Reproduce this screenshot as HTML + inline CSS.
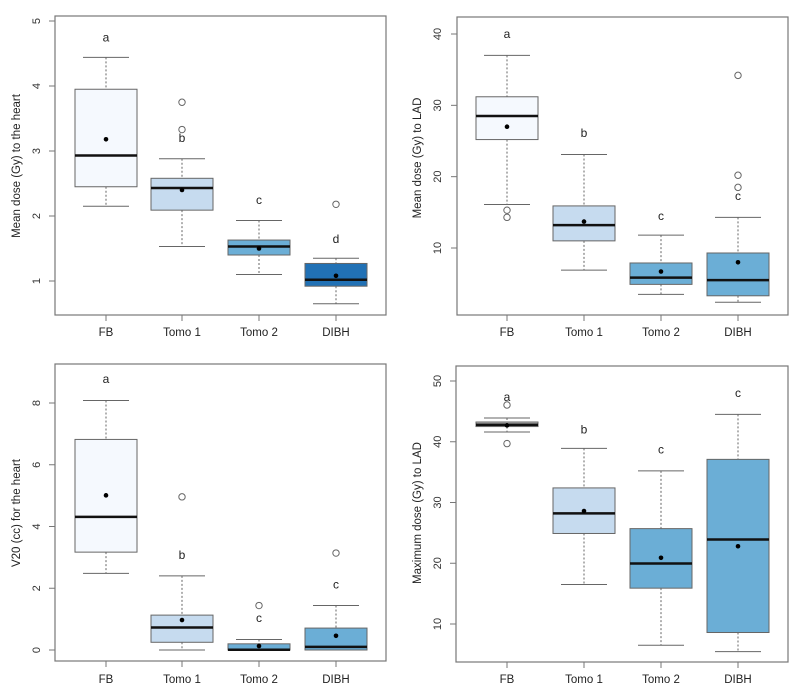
<!DOCTYPE html>
<html><head><meta charset="utf-8"><style>
html,body{margin:0;padding:0;background:#fff;}
svg{display:block;font-family:"Liberation Sans",sans-serif;}
</style></head><body>
<svg id="fig" width="800" height="695" viewBox="0 0 800 695"></svg>
<script>
const categories = ["FB","Tomo 1","Tomo 2","DIBH"];
// panel 1: mean heart dose
const p1Lo=[2.15,1.53,1.1,0.65], p1Q1=[2.45,2.09,1.4,0.92], p1Med=[2.93,2.43,1.53,1.02], p1Q3=[3.95,2.58,1.63,1.27], p1Hi=[4.44,2.88,1.93,1.35], p1Mean=[3.18,2.40,1.5,1.08];
const p1Out=[[],[3.75,3.33],[],[2.18]], p1Letters=["a","b","c","d"], p1LetterY=[4.75,3.2,2.25,1.65];
const p1Ticks=[1,2,3,4,5];
// panel 2: mean LAD dose
const p2Lo=[16.1,6.9,3.5,2.4], p2Q1=[25.2,11.0,4.9,3.3], p2Med=[28.5,13.2,5.85,5.5], p2Q3=[31.2,15.9,7.9,9.3], p2Hi=[37.0,23.1,11.8,14.3], p2Mean=[27.0,13.7,6.7,8.0];
const p2Out=[[15.3,14.3],[],[],[34.2,20.2,18.5]], p2Letters=["a","b","c","c"], p2LetterY=[40.0,26.1,14.5,17.3];
const p2Ticks=[10,20,30,40];
// panel 3: V20 heart
const p3Lo=[2.48,0,0,0], p3Q1=[3.17,0.25,0,0], p3Med=[4.31,0.73,0.01,0.1], p3Q3=[6.82,1.13,0.2,0.71], p3Hi=[8.08,2.40,0.34,1.44], p3Mean=[5.01,0.97,0.13,0.46];
const p3Out=[[],[4.96],[1.44],[3.14]], p3Letters=["a","b","c","c"], p3LetterY=[8.77,3.08,1.03,2.12];
const p3Ticks=[0,2,4,6,8];
// panel 4: max LAD dose
const p4Lo=[41.6,16.5,6.5,5.45], p4Q1=[42.5,24.9,15.9,8.6], p4Med=[42.8,28.2,19.96,23.9], p4Q3=[43.25,32.4,25.7,37.1], p4Hi=[43.9,38.9,35.2,44.5], p4Mean=[42.7,28.6,20.9,22.8];
const p4Out=[[46.05,39.7],[],[],[]], p4Letters=["a","b","c","c"], p4LetterY=[47.4,42.05,38.7,48];
const p4Ticks=[10,20,30,40,50];

const panels=[
 {id:"heart-mean",title:"Mean dose (Gy) to the heart",L:55,R:386,T:16,B:315,v1:5,y1:21,v2:1,y2:281,cx:[106,182,259,336],ttlX:17,ttlY:166,tickX:40,labY:336,
  lo:p1Lo,q1:p1Q1,med:p1Med,q3:p1Q3,hi:p1Hi,mean:p1Mean,out:p1Out,let:p1Letters,letY:p1LetterY,ticks:p1Ticks,fills:["#f5f9fe","#c6dbef","#6baed6","#2171b5"]},
 {id:"lad-mean",title:"Mean dose (Gy) to LAD",L:457,R:788,T:17,B:315,v1:40,y1:34,v2:10,y2:248,cx:[507,584,661,738],ttlX:418,ttlY:158,tickX:441,labY:336,
  lo:p2Lo,q1:p2Q1,med:p2Med,q3:p2Q3,hi:p2Hi,mean:p2Mean,out:p2Out,let:p2Letters,letY:p2LetterY,ticks:p2Ticks,fills:["#f5f9fe","#c6dbef","#6baed6","#6baed6"]},
 {id:"heart-v20",title:"V20 (cc) for the heart",L:55,R:386,T:364,B:661,v1:8,y1:403,v2:0,y2:650,cx:[106,182,259,336],ttlX:17,ttlY:513,tickX:40,labY:683,
  lo:p3Lo,q1:p3Q1,med:p3Med,q3:p3Q3,hi:p3Hi,mean:p3Mean,out:p3Out,let:p3Letters,letY:p3LetterY,ticks:p3Ticks,fills:["#f5f9fe","#c6dbef","#6baed6","#6baed6"]},
 {id:"lad-max",title:"Maximum dose (Gy) to LAD",L:456,R:788,T:366,B:662,v1:50,y1:381,v2:10,y2:624,cx:[507,584,661,738],ttlX:418,ttlY:513,tickX:441,labY:683,
  lo:p4Lo,q1:p4Q1,med:p4Med,q3:p4Q3,hi:p4Hi,mean:p4Mean,out:p4Out,let:p4Letters,letY:p4LetterY,ticks:p4Ticks,fills:["#bdbdbd","#c6dbef","#6baed6","#6baed6"]}
];
const NS="http://www.w3.org/2000/svg";
const svg=document.getElementById("fig");
function mk(tag,attrs,parent,name){const e=document.createElementNS(NS,tag);for(const k in attrs)e.setAttribute(k,attrs[k]);
 
 
 parent.appendChild(e);return e;}
panels.forEach(p=>{
 const g=mk("g",{},svg,p.id+"-panel");
 const y=v=>p.y1+(v-p.v1)*(p.y2-p.y1)/(p.v2-p.v1);
 const hw=31, cap=23;
 mk("rect",{x:p.L,y:p.T,width:p.R-p.L,height:p.B-p.T,fill:"none",stroke:"#777","stroke-width":1.2},g,p.id+"-plot-frame");
 p.ticks.forEach(t=>{
  mk("line",{x1:p.L-6,x2:p.L,y1:y(t),y2:y(t),stroke:"#777"},g,p.id+"-y-tick");
  const tx=mk("text",{x:p.tickX,y:y(t),transform:`rotate(-90 ${p.tickX} ${y(t)})`,"text-anchor":"middle","font-size":11,fill:"#333"},g,p.id+"-y-tick-label");
  tx.textContent=t;
 });
 const tt=mk("text",{x:p.ttlX,y:p.ttlY,transform:`rotate(-90 ${p.ttlX} ${p.ttlY})`,"text-anchor":"middle","dominant-baseline":"central","font-size":11.5,fill:"#222"},g,p.id+"-y-axis-title");
 tt.textContent=p.title;
 categories.forEach((c,i)=>{
  const x=p.cx[i];
  mk("line",{x1:x,x2:x,y1:p.B,y2:p.B+6,stroke:"#777"},g,p.id+"-x-tick");
  const lb=mk("text",{x:x,y:p.labY,"text-anchor":"middle","font-size":11.5,fill:"#222"},g,p.id+"-x-label");
  lb.textContent=c;
  mk("line",{x1:x,x2:x,y1:y(p.hi[i]),y2:y(p.q3[i]),stroke:"#666","stroke-dasharray":"2,2"},g,p.id+"-whisker-upper");
  mk("line",{x1:x,x2:x,y1:y(p.q1[i]),y2:y(p.lo[i]),stroke:"#666","stroke-dasharray":"2,2"},g,p.id+"-whisker-lower");
  mk("line",{x1:x-cap,x2:x+cap,y1:y(p.hi[i]),y2:y(p.hi[i]),stroke:"#666"},g,p.id+"-cap-upper");
  mk("line",{x1:x-cap,x2:x+cap,y1:y(p.lo[i]),y2:y(p.lo[i]),stroke:"#666"},g,p.id+"-cap-lower");
  mk("rect",{x:x-hw,y:y(p.q3[i]),width:2*hw,height:Math.max(1,y(p.q1[i])-y(p.q3[i])),fill:p.fills[i],stroke:"#666"},g,p.id+"-box-"+i);
  mk("line",{x1:x-hw,x2:x+hw,y1:y(p.med[i]),y2:y(p.med[i]),stroke:"#111","stroke-width":2.5},g,p.id+"-median");
  mk("circle",{cx:x,cy:y(p.mean[i]),r:2.3,fill:"#000"},g,p.id+"-mean-point");
  p.out[i].forEach(o=>mk("circle",{cx:x,cy:y(o),r:3.2,fill:"none",stroke:"#666"},g,p.id+"-outlier"));
  const lt=mk("text",{x:x,y:y(p.letY[i])+4,"text-anchor":"middle","font-size":12,fill:"#222"},g,p.id+"-group-letter");
  lt.textContent=p.let[i];
 });
});
</script>
</body></html>
